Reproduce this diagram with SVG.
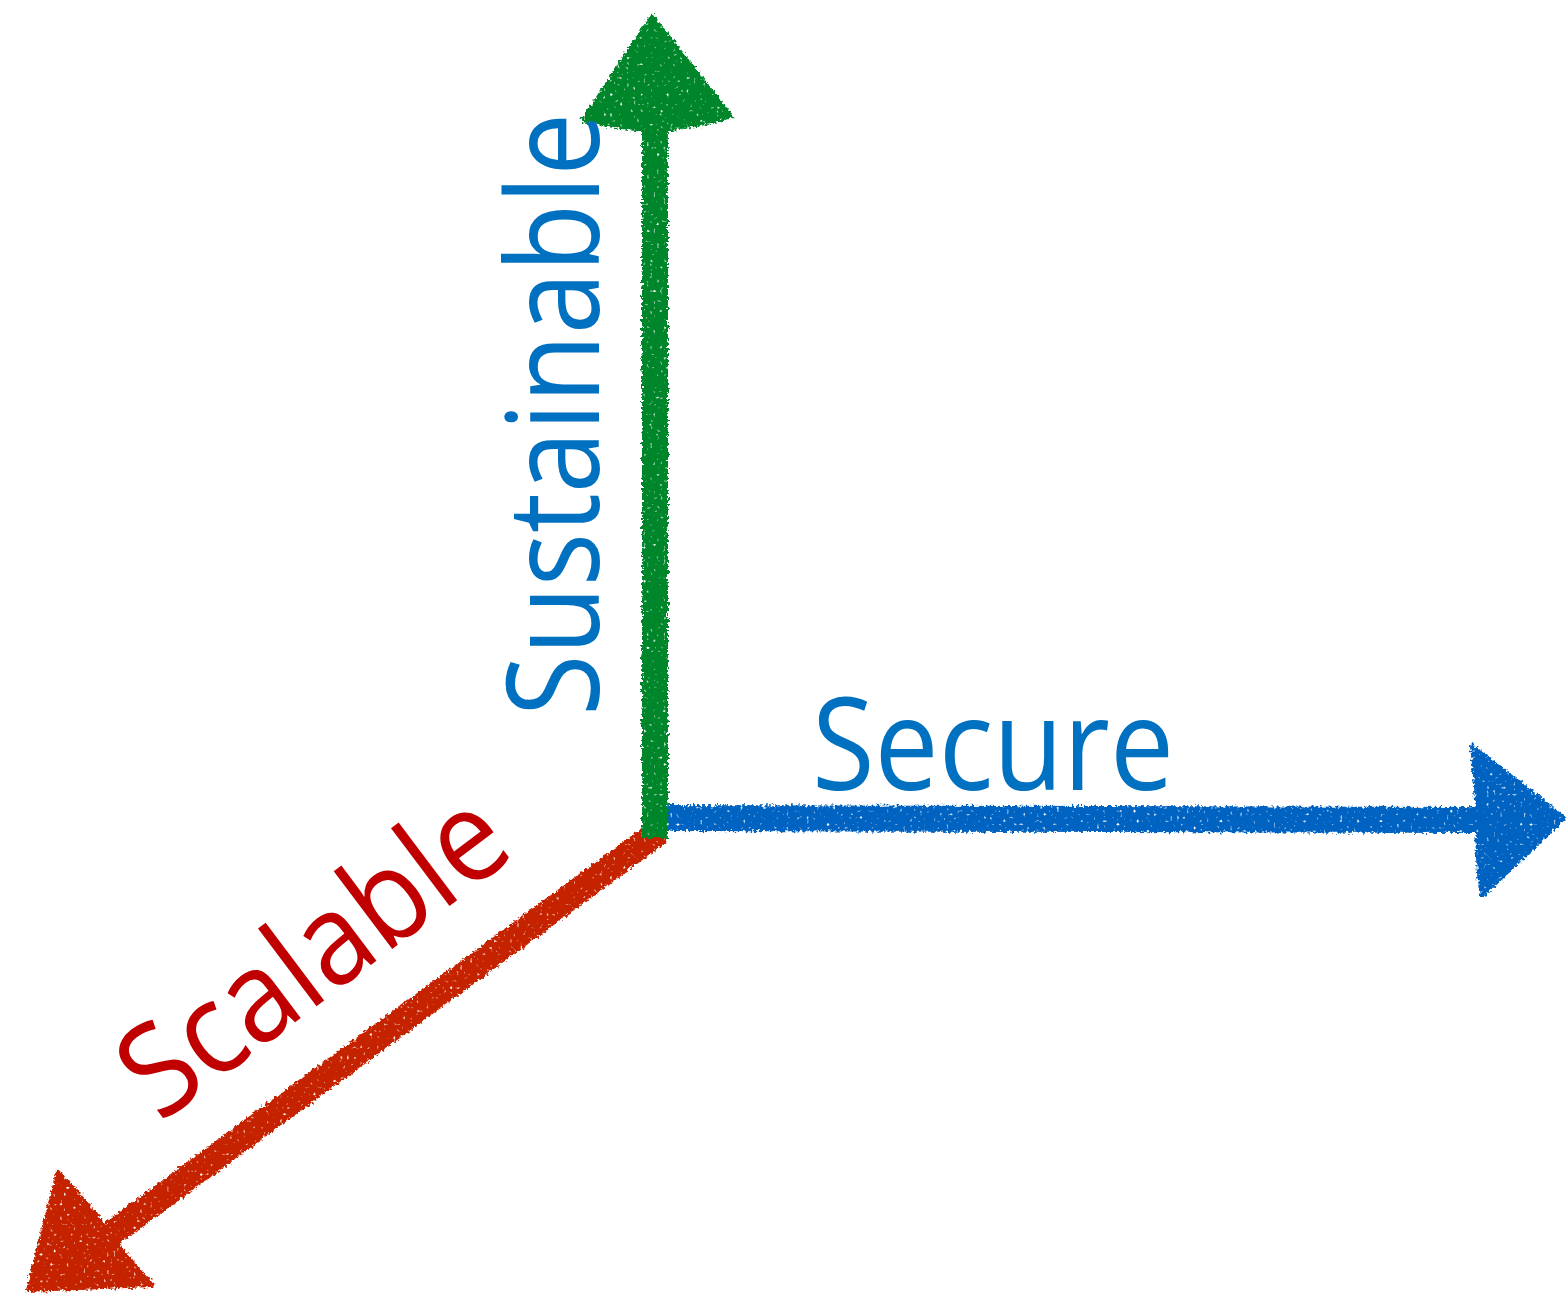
<svg xmlns="http://www.w3.org/2000/svg" width="1567" height="1303" viewBox="0 0 1567 1303">
  <style>
    .label { font-family: "Open Sans", "Noto Sans", "Liberation Sans", sans-serif; font-size: 128px; }
    .blue-text { fill: #0070C0; }
    .red-text { fill: #C00000; }
    .shaft { fill: none; stroke-width: 26; stroke-linecap: butt; }
  </style>
  <defs>
    <!-- crayon-like rough edge and sparse light speckle for the hand-drawn axes -->
    <filter id="crayon" x="-5%" y="-5%" width="110%" height="110%">
      <feTurbulence type="fractalNoise" baseFrequency="0.35" numOctaves="2" seed="7" result="n1"/>
      <feDisplacementMap in="SourceGraphic" in2="n1" scale="7" xChannelSelector="R" yChannelSelector="G" result="rough"/>
      <feTurbulence type="fractalNoise" baseFrequency="0.3" numOctaves="1" seed="3" result="n2"/>
      <feColorMatrix in="n2" type="matrix" values="0 0 0 0 0  0 0 0 0 0  0 0 0 0 0  -6 0 0 0 4.9" result="speckle"/>
      <feComposite in="rough" in2="speckle" operator="in"/>
    </filter>
  </defs>

  <rect width="1567" height="1303" fill="#FFFFFF"/>

  <g id="connectors" filter="url(#crayon)">
    <!-- depth axis (red) -->
    <g id="axis-down-left">
      <line class="shaft" x1="660" y1="831" x2="100" y2="1242" stroke="#C52202"/>
      <path d="M58,1172 L28,1290 L153,1285 Q120,1250 100,1220 Q80,1195 58,1172 Z" fill="#C52202" stroke="#C52202" stroke-width="4" stroke-linejoin="round"/>
    </g>
    <!-- horizontal axis (blue) -->
    <g id="axis-right">
      <line class="shaft" x1="662" y1="818" x2="1482" y2="820" stroke="#0563C1"/>
      <path d="M1472,746 L1564,818 L1482,896 Q1476,860 1478,820 Q1476,780 1472,746 Z" fill="#0563C1" stroke="#0563C1" stroke-width="4" stroke-linejoin="round"/>
    </g>
    <!-- vertical axis (green) -->
    <g id="axis-up">
      <line class="shaft" x1="655" y1="838" x2="655" y2="118" stroke="#05862A"/>
      <path d="M583,120 L652,16 L731,116 Q700,126 655,131 Q620,128 583,120 Z" fill="#05862A" stroke="#05862A" stroke-width="4" stroke-linejoin="round"/>
    </g>
  </g>

  <g id="label-sustainable">
    <text class="label blue-text" transform="translate(599,716) rotate(-90)" textLength="603" lengthAdjust="spacingAndGlyphs">Sustainable</text>
  </g>
  <g id="label-secure">
    <text class="label blue-text" x="812" y="790" textLength="362" lengthAdjust="spacingAndGlyphs">Secure</text>
  </g>
  <g id="label-scalable">
    <text class="label red-text" transform="translate(160,1124) rotate(-37)" textLength="448" lengthAdjust="spacingAndGlyphs">Scalable</text>
  </g>
</svg>
